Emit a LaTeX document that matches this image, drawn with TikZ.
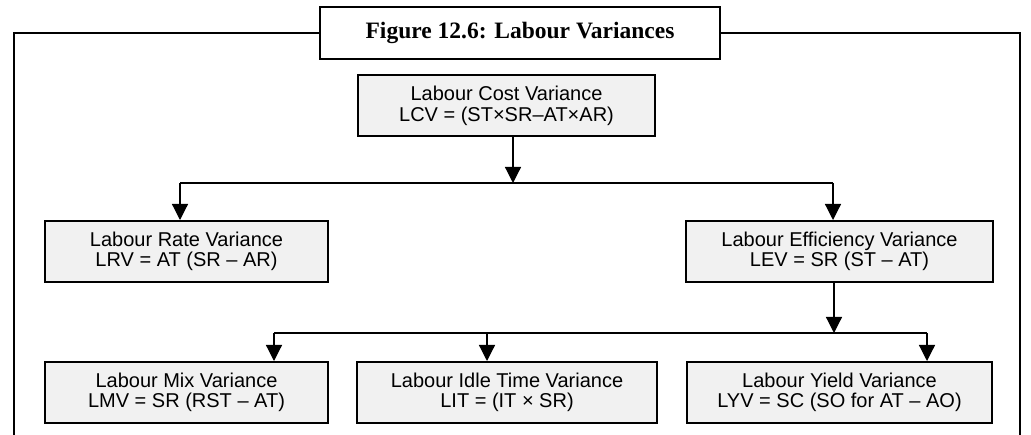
\documentclass[tikz,border=0pt]{standalone}
\usepackage{fontspec}
\setmainfont{Liberation Serif}
\setsansfont{Liberation Sans}
\usetikzlibrary{arrows.meta}
\tikzset{
	vbox/.style={draw, line width=2pt, fill=gray!11, align=center, inner sep=0pt,
		minimum height=61pt, font=\sffamily\fontsize{20}{20.5}\selectfont},
	link/.style={line width=1.2pt}
}
\begin{document}
\begin{tikzpicture}[x=1pt, y=1pt, line join=miter, >={Triangle[length=16pt,width=16pt]}]
	\useasboundingbox (0,0) rectangle (1031,434);
	\def\yt{251} % upper branch line
	\def\yb{101} % lower branch line
	% outer frame, open at the bottom
	\draw[line width=2pt] (14,-5)--(14,401)--(1020,401)--(1020,-5);
	\node[draw, line width=2pt, fill=white, minimum width=400pt, minimum height=52pt, inner sep=0pt,
		font=\bfseries\fontsize{23.5}{25}\selectfont] (title) at (520,401) {Figure 12.6: Labour Variances};
	% variance boxes
	\node[vbox, minimum width=297pt] (lcv) at (506.5,328) {Labour Cost Variance\\LCV = (ST×SR–AT×AR)};
	\node[vbox, minimum width=283pt] (lrv) at (186.5,182.5) {Labour Rate Variance\\LRV = AT (SR – AR)};
	\node[vbox, minimum width=307pt] (lev) at (839.5,182.5) {Labour Efficiency Variance\\LEV = SR (ST – AT)};
	\node[vbox, minimum width=283pt] (lmv) at (186.5,41.5) {Labour Mix Variance\\LMV = SR (RST – AT)};
	\node[vbox, minimum width=300pt] (lit) at (507,41.5) {Labour Idle Time Variance\\LIT = (IT × SR)};
	\node[vbox, minimum width=305pt] (lyv) at (839.5,41.5) {Labour Yield Variance\\LYV = SC (SO for AT – AO)};
	% upper branch
	\coordinate (tj) at (513,\yt);
	\coordinate (tl) at (180,\yt);
	\coordinate (tr) at (833,\yt);
	\draw[link,->] (lcv.south -| tj)--(tj);
	\draw[link] (tl)--(tr);
	\draw[link,->] (tl)--(tl |- lrv.north);
	\draw[link,->] (tr)--(tr |- lev.north);
	% lower branch
	\coordinate (bj) at (834,\yb);
	\coordinate (bl) at (274,\yb);
	\coordinate (bm) at (487,\yb);
	\coordinate (br) at (927,\yb);
	\draw[link,->] (lev.south -| bj)--(bj);
	\draw[link] (bl)--(br);
	\foreach \p/\q in {bl/lmv, bm/lit, br/lyv} \draw[link,->] (\p)--(\p |- \q.north);
\end{tikzpicture}
\end{document}
